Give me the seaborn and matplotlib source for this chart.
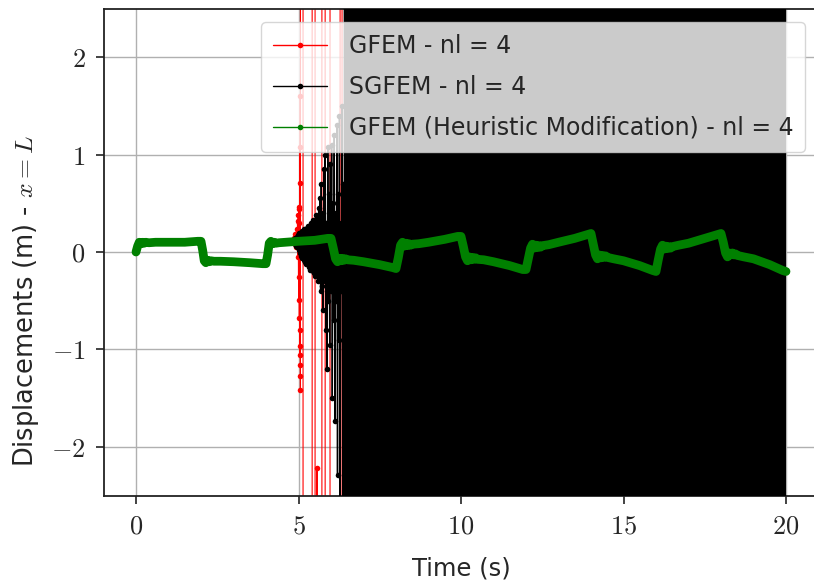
import numpy as np
import pandas as pd
import matplotlib
matplotlib.use("Agg")
import matplotlib.pyplot as plt
from matplotlib.lines import Line2D
import seaborn as sns

# ---------------- data ----------------
BIG = 1.0e4  # off-scale (diverged) values

# GFEM (Heuristic Modification) - stable sawtooth response
green_t = [0.0, 0.05, 0.1, 0.15, 0.2, 0.25, 0.3, 0.4, 0.6, 1.0, 1.5, 1.9, 2.0,
           2.05, 2.1, 2.15, 2.2, 2.25, 2.3, 2.4, 2.6, 3.0, 3.5, 3.9, 4.0,
           4.05, 4.1, 4.15, 4.2, 4.25, 4.3, 4.4, 4.6, 5.0, 5.5, 5.9, 6.0,
           6.07, 6.14, 6.2, 6.25, 6.3, 6.35, 6.4, 6.45, 6.5, 6.7, 7.0, 7.5, 7.9, 8.0,
           8.07, 8.14, 8.2, 8.25, 8.3, 8.35, 8.4, 8.45, 8.5, 8.7, 9.0, 9.5, 9.9, 10.0,
           10.07, 10.14, 10.2, 10.25, 10.3, 10.35, 10.4, 10.45, 10.5, 10.7, 11.0, 11.5, 11.9, 12.0,
           12.07, 12.14, 12.2, 12.25, 12.3, 12.35, 12.4, 12.45, 12.5, 12.7, 13.0, 13.5, 13.9, 14.0,
           14.07, 14.14, 14.2, 14.25, 14.3, 14.35, 14.4, 14.45, 14.5, 14.7, 15.0, 15.5, 15.9, 16.0,
           16.07, 16.14, 16.2, 16.25, 16.3, 16.35, 16.4, 16.45, 16.5, 16.7, 17.0, 17.5, 17.9, 18.0,
           18.07, 18.14, 18.2, 18.25, 18.3, 18.35, 18.4, 18.45, 18.5, 18.7, 19.0, 19.5, 19.9, 20.0]
green_v = [0.0, 0.06, 0.10, 0.085, 0.10, 0.09, 0.10, 0.095, 0.10, 0.10, 0.10, 0.11, 0.11,
           0.02, -0.09, -0.11, -0.085, -0.10, -0.09, -0.095, -0.095, -0.10, -0.11, -0.12, -0.12,
           -0.03, 0.09, 0.11, 0.085, 0.10, 0.09, 0.095, 0.10, 0.11, 0.12, 0.14, 0.14,
           0.04, -0.07, -0.10, -0.065, -0.09, -0.065, -0.085, -0.07, -0.08, -0.085, -0.10, -0.13, -0.16, -0.17,
           -0.06, 0.07, 0.10, 0.06, 0.09, 0.065, 0.085, 0.07, 0.08, 0.085, 0.10, 0.13, 0.16, 0.16,
           0.06, -0.05, -0.09, -0.05, -0.08, -0.055, -0.075, -0.06, -0.075, -0.08, -0.10, -0.14, -0.18, -0.18,
           -0.07, 0.04, 0.08, 0.04, 0.07, 0.045, 0.065, 0.05, 0.065, 0.075, 0.10, 0.14, 0.18, 0.19,
           0.08, -0.03, -0.07, -0.03, -0.06, -0.035, -0.055, -0.04, -0.055, -0.07, -0.09, -0.14, -0.19, -0.20,
           -0.08, 0.03, 0.07, 0.03, 0.06, 0.035, 0.055, 0.04, 0.055, 0.07, 0.09, 0.14, 0.18, 0.19,
           0.10, -0.01, -0.05, -0.01, -0.03, -0.01, -0.03, -0.02, -0.035, -0.05, -0.07, -0.13, -0.19, -0.20]

# GFEM - nl = 4 : stable, then diverges near t = 5 s
red_t = [0.0, 0.1, 2.0, 2.1, 4.0, 4.1, 4.8,
         4.85, 4.88, 4.90, 4.92, 4.94, 4.96, 4.97, 4.98, 4.99, 5.00, 5.01, 5.015, 5.02, 5.025,
         5.03, 5.035, 5.04, 5.045, 5.05, 5.052, 5.054, 5.056, 5.058, 5.06,
         5.065, 5.135, 5.145, 5.415, 5.425, 5.505, 5.515, 5.565, 5.57, 5.575,
         5.715, 5.725, 5.815, 5.825, 5.965, 5.975, 6.275, 6.285, 6.335, 6.345]
red_v = [0.0, 0.1, 0.11, -0.1, -0.12, 0.1, 0.11,
         0.14, 0.08, 0.18, 0.05, 0.24, 0.12, 0.32, -0.05, 0.38, -0.26, 0.44, -0.49, 0.46, -0.68,
         0.30, -0.80, 0.71, -0.97, 1.08, -1.06, 1.6, -1.16, -1.27, -1.42,
         BIG, BIG, -BIG, -BIG, BIG, BIG, -BIG, -BIG, -2.22, -BIG,
         -BIG, BIG, BIG, -BIG, -BIG, BIG, BIG, -BIG, -BIG, BIG]

# SGFEM - nl = 4 : stable, growing oscillation after t = 5 s, then diverged
black_t = [0.0, 0.1, 2.0, 2.1, 4.0, 4.1, 4.84,
           4.86, 4.88, 4.90, 4.92, 4.94, 4.96, 4.98, 5.00, 5.02, 5.04, 5.06, 5.08,
           5.10, 5.12, 5.14, 5.16, 5.18, 5.20, 5.22, 5.24, 5.26, 5.28, 5.30, 5.32,
           5.34, 5.36, 5.38, 5.40, 5.42, 5.44, 5.46, 5.48, 5.50, 5.52, 5.54, 5.56,
           5.58, 5.60, 5.62, 5.64, 5.66, 5.68, 5.70, 5.72, 5.74, 5.76, 5.78, 5.80,
           5.82, 5.84, 5.86, 5.88, 5.90, 5.92, 5.94, 5.96, 5.98, 6.00, 6.02, 6.04,
           6.06, 6.08, 6.10, 6.12, 6.14, 6.16, 6.18, 6.20, 6.22, 6.24, 6.26, 6.28,
           6.30, 6.32, 6.34, 6.36, 6.38, 6.40, 6.42]
black_v = [0.0, 0.1, 0.11, -0.1, -0.12, 0.1, 0.11,
           0.12, 0.08, 0.14, 0.06, 0.15, 0.05, 0.17, 0.02, 0.19, -0.01, 0.20, -0.04,
           0.22, -0.06, 0.20, -0.08, 0.24, -0.10, 0.22, -0.12, 0.25, -0.10, 0.27, -0.15,
           0.24, -0.18, 0.30, -0.16, 0.28, -0.20, 0.33, -0.22, 0.30, -0.25, 0.38, -0.20,
           0.35, -0.30, 0.45, -0.28, 0.55, -0.40, 0.70, -0.35, 0.40, -0.60, 0.85, -0.30,
           1.00, -0.80, 0.30, -1.20, 1.08, -0.50, 0.60, -0.95, 0.90, -0.40, 1.10, -1.50,
           0.50, -0.70, 1.20, -1.73, 0.40, -0.50, 1.30, -2.29, 0.60, -0.90, 1.40, -2.60,
           0.30, -0.40, 1.50, -2.70, 0.70, -BIG, BIG]

# envelope of the diverged SGFEM solution (off-scale oscillation)
black_env_t = [6.42, 20.0]
black_env_lo = [-BIG, -BIG]
black_env_hi = [BIG, BIG]

x_ticks = [0, 5, 10, 15, 20]
y_ticks = [-2, -1, 0, 1, 2]
labels = ["GFEM - nl = 4", "SGFEM - nl = 4",
          "GFEM (Heuristic Modification) - nl = 4"]
colors = ["#ff0000", "#000000", "#008000"]

# ---------------- plotting ----------------
sns.set_style("ticks")
plt.rcParams["font.family"] = ["DejaVu Sans"]
plt.rcParams["mathtext.fontset"] = "cm"

fig = plt.figure(figsize=(8.14, 5.83), dpi=100)
W, H = 814.0, 583.0
ax = fig.add_axes([103.5 / W, 1 - 495.5 / H, 715.0 / W, 487.0 / H])

red = pd.DataFrame({"t": red_t, "v": red_v})
black = pd.DataFrame({"t": black_t, "v": black_v})
green = pd.DataFrame({"t": green_t, "v": green_v})

sns.lineplot(data=red, x="t", y="v", ax=ax, estimator=None, sort=False,
             color=colors[0], lw=0.8, marker="o", markersize=4,
             markeredgecolor=colors[0], markeredgewidth=0, zorder=2)
sns.lineplot(data=black, x="t", y="v", ax=ax, estimator=None, sort=False,
             color=colors[1], lw=1.0, marker="o", markersize=4,
             markeredgecolor=colors[1], markeredgewidth=0, zorder=3)
ax.fill_between(black_env_t, black_env_lo, black_env_hi, color=colors[1],
                lw=0, zorder=3)
sns.lineplot(data=green, x="t", y="v", ax=ax, estimator=None, sort=False,
             color=colors[2], lw=6.3, zorder=4)
ax.lines[-1].set_solid_joinstyle("round")
ax.lines[-1].set_solid_capstyle("round")

ax.set_xlim(-1, 21)
ax.set_ylim(-2.5, 2.5)
ax.set_xticks(x_ticks)
ax.set_xticklabels([f"${v}$" for v in x_ticks])
ax.set_yticks(y_ticks)
ax.set_yticklabels([f"${v}$" for v in y_ticks])
ax.tick_params(axis="both", labelsize=19, length=6, width=1.2, color="#222222",
               direction="out", pad=7)
ax.grid(True, color="#b0b0b0", lw=1.0, zorder=0)
ax.set_axisbelow(True)
for s in ax.spines.values():
    s.set_color("#222222")
    s.set_linewidth(1.3)
ax.spines["right"].set_visible(False)

ax.set_xlabel("Time (s)", fontsize=17.5, labelpad=12)
ax.set_ylabel("Displacements (m) - $x = L$", fontsize=18.5)
ax.yaxis.set_label_coords(-0.088, 0.40)

handles = [Line2D([0], [0], color=c, lw=1.0, marker="o", markersize=4,
                  markeredgewidth=0) for c in colors]
leg = ax.legend(handles, labels, loc="upper right",
                bbox_to_anchor=(1 - 13.5 / 715, 1 - 13.5 / 487),
                borderaxespad=0, fontsize=17, framealpha=0.8,
                edgecolor="#cccccc", fancybox=True, borderpad=0.5,
                labelspacing=0.72, handlelength=2.3, handletextpad=0.9)
leg.set_zorder(10)

fig.savefig("out.png", dpi=100, facecolor="white")
